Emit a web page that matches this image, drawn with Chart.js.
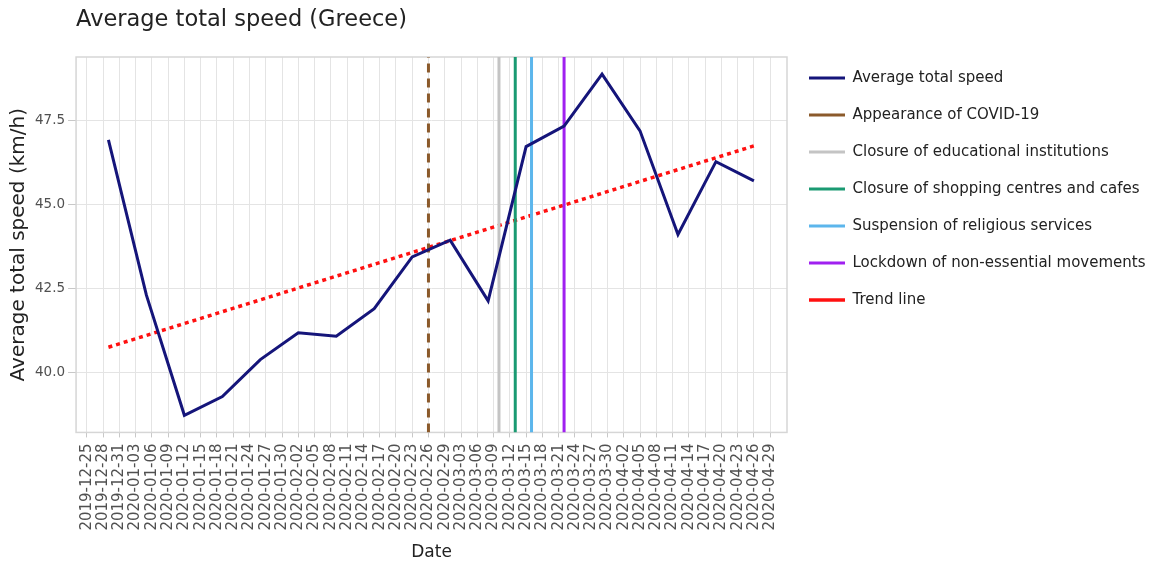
<!DOCTYPE html>
<html>
<head>
<meta charset="utf-8">
<script src="https://cdn.jsdelivr.net/npm/chart.js@4/dist/chart.umd.min.js"></script>
<style>
  html, body { margin: 0; padding: 0; background: #fff; }
  #wrap { width: 1150px; height: 564px; position: relative; }
</style>
</head>
<body>
<div id="wrap"><canvas id="chartSpeed"></canvas></div>
<script>
// weekly observations
var weeks = ['2019-12-29','2020-01-05','2020-01-12','2020-01-19','2020-01-26','2020-02-02','2020-02-09','2020-02-16','2020-02-23',
             '2020-03-01','2020-03-08','2020-03-15','2020-03-22','2020-03-29','2020-04-05','2020-04-12','2020-04-19','2020-04-26'];
var speed = [46.93, 42.3, 38.72, 39.28, 40.38, 41.18, 41.08, 41.9, 43.44,
             43.94, 42.13, 46.73, 47.34, 48.89, 47.2, 44.11, 46.28, 45.71];

// trend line end points
var trendDates = ['2019-12-29', '2020-04-26'];
var trendVals = [40.75, 46.75];

// measures taken
var eventNames = ['Appearance of COVID-19', 'Closure of educational institutions', 'Closure of shopping centres and cafes',
                  'Suspension of religious services', 'Lockdown of non-essential movements'];
var eventDates = ['2020-02-26', '2020-03-10', '2020-03-13', '2020-03-16', '2020-03-22'];
var eventColors = ['#8b5a2b', '#c4c4c4', '#1a9a72', '#5cb6ec', '#a020f0'];

// x tick labels (every 3 days)
var tickDates = ['2019-12-25','2019-12-28','2019-12-31','2020-01-03','2020-01-06','2020-01-09','2020-01-12','2020-01-15',
  '2020-01-18','2020-01-21','2020-01-24','2020-01-27','2020-01-30','2020-02-02','2020-02-05','2020-02-08','2020-02-11',
  '2020-02-14','2020-02-17','2020-02-20','2020-02-23','2020-02-26','2020-02-29','2020-03-03','2020-03-06','2020-03-09',
  '2020-03-12','2020-03-15','2020-03-18','2020-03-21','2020-03-24','2020-03-27','2020-03-30','2020-04-02','2020-04-05',
  '2020-04-08','2020-04-11','2020-04-14','2020-04-17','2020-04-20','2020-04-23','2020-04-26','2020-04-29'];

var xMin = -1.97, xMax = 129.1;   // days from 2019-12-25
var yMin = 38.21, yMax = 49.40;

var base = Date.parse('2019-12-25T00:00:00Z');
function day(s) { return (Date.parse(s + 'T00:00:00Z') - base) / 86400000; }
function dateOf(d) {
  return new Date(base + Math.round(d) * 86400000).toISOString().slice(0, 10);
}

var font = "'DejaVu Sans', Verdana, sans-serif";
var textColor = '#505050';
var gridColor = '#e4e4e4';

var datasets = [{
  label: 'Average total speed',
  data: weeks.map(function(w, i) { return { x: day(w), y: speed[i] }; }),
  borderColor: '#15157a',
  borderWidth: 3,
  pointRadius: 0,
  tension: 0
}];

eventNames.forEach(function(name, i) {
  var d = day(eventDates[i]);
  datasets.push({
    label: name,
    data: [{ x: d, y: yMin }, { x: d, y: yMax }],
    borderColor: eventColors[i],
    borderWidth: 3,
    borderDash: i === 0 ? [9, 6] : [],
    pointRadius: 0
  });
});

datasets.push({
  label: 'Trend line',
  data: trendDates.map(function(t, i) { return { x: day(t), y: trendVals[i] }; }),
  borderColor: '#ff1010',
  borderWidth: 3.5,
  borderDash: [4, 4],
  pointRadius: 0
});

// light frame around the plot area
var frame = {
  id: 'frame',
  beforeDatasetsDraw: function(chart) {
    var a = chart.chartArea, c = chart.ctx;
    c.save();
    c.strokeStyle = '#d6d6d6';
    c.lineWidth = 1.5;
    c.strokeRect(a.left, a.top, a.right - a.left, a.bottom - a.top);
    c.restore();
  }
};

new Chart(document.getElementById('chartSpeed'), {
  type: 'line',
  data: { datasets: datasets },
  plugins: [frame],
  options: {
    responsive: true,
    maintainAspectRatio: false,
    animation: false,
    plugins: {
      title: {
        display: true,
        text: 'Average total speed (Greece)',
        align: 'start',
        fullSize: false,
        color: '#222',
        font: { family: font, size: 22.5, weight: 'normal' },
        padding: { top: 6.5, bottom: 23.5 }
      },
      legend: {
        position: 'right',
        align: 'start',
        maxWidth: 363,
        title: { display: true, text: '', font: { size: 12 }, padding: { top: 34, bottom: 0 } },
        labels: {
          usePointStyle: true,
          pointStyle: 'line',
          pointStyleWidth: 36,
          padding: 22,
          color: '#222',
          font: { family: font, size: 15 }
        }
      },
      tooltip: { enabled: false }
    },
    scales: {
      x: {
        type: 'linear',
        min: xMin,
        max: xMax,
        afterBuildTicks: function(axis) {
          axis.ticks = tickDates.map(function(t) { return { value: day(t) }; });
        },
        ticks: {
          autoSkip: false,
          minRotation: 90,
          maxRotation: 90,
          padding: 6,
          color: textColor,
          font: { family: font, size: 15 },
          callback: function(v) { return dateOf(v); }
        },
        grid: { color: gridColor, tickLength: 5, tickColor: '#c8c8c8' },
        border: { display: false },
        title: {
          display: true,
          text: 'Date',
          color: '#222',
          font: { family: font, size: 17 },
          padding: { top: 6, bottom: 1 }
        }
      },
      y: {
        min: yMin,
        max: yMax,
        ticks: {
          stepSize: 2.5,
          includeBounds: false,
          padding: 3,
          color: textColor,
          font: { family: font, size: 13.5 },
          callback: function(v) { return v.toFixed(1); }
        },
        grid: { color: gridColor, tickLength: 8, tickColor: '#c8c8c8' },
        border: { display: false },
        title: {
          display: true,
          text: 'Average total speed (km/h)',
          color: '#222',
          font: { family: font, size: 20 },
          padding: { top: 7, bottom: 1 }
        }
      }
    }
  }
});
</script>
</body>
</html>
